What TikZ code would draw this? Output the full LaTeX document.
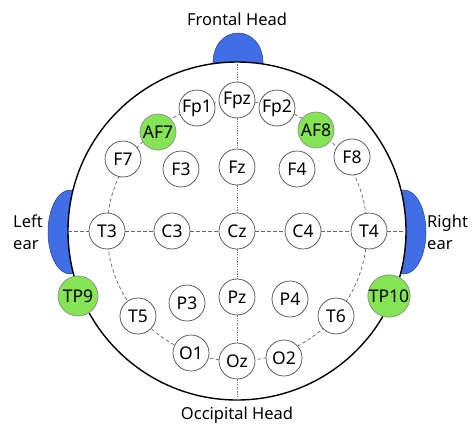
\documentclass[tikz,border=0pt]{standalone}
\usepackage{fontspec}
\setmainfont{Noto Sans}
\begin{document}
\begin{tikzpicture}[x=1pt,y=-1pt,
  elec/.style={circle,draw=black!70,line width=0.7pt,fill=white,minimum size=36pt,inner sep=0pt,font=\fontsize{17.5}{19}\selectfont},
  gel/.style={elec,fill=elecgreen,draw=black!45},
  bigel/.style={gel,minimum size=40pt},
  lab/.style={font=\fontsize{16.5}{22}\selectfont,inner sep=0pt},
  dotline/.style={draw=black!55,line width=0.6pt,dash pattern=on 1.2pt off 1.2pt},
  dashline/.style={draw=black!60,line width=0.7pt,dash pattern=on 3.5pt off 2.5pt},
  organ/.style={fill=organblue,draw=organblue!60!black,line width=0.5pt}]
\definecolor{elecgreen}{RGB}{132,228,84}
\definecolor{organblue}{RGB}{64,110,230}
\useasboundingbox (0,0) rectangle (474,439);
% nose and ears
\path[organ] (213,66) .. controls (211,22) and (265,22) .. (263,66) -- cycle;
\path[organ] (70,232) ellipse [x radius=22, y radius=42];
\path[organ] (404,232) ellipse [x radius=22, y radius=42];
% head
\draw[fill=white,line width=1.4pt] (237,231) circle (169);
\coordinate (top) at (237,62);
\coordinate (bot) at (237,400);
\coordinate (lft) at (68,231);
\coordinate (rgt) at (406,231);
\coordinate (ctr) at (237,231);
% ring
\draw[dashline] (ctr) circle (130);
% electrodes
\node[elec] (Fpz) at (237,100) {Fpz};
\node[elec] (Fp1) at (197,108) {Fp1};
\node[elec] (Fp2) at (277,108) {Fp2};
\node[gel] (AF7) at (158,132) {AF7};
\node[gel] (AF8) at (316,130) {AF8};
\node[elec] (F7) at (123,159) {F7};
\node[elec] (F8) at (352,157) {F8};
\node[elec] (F3) at (181,169) {F3};
\node[elec] (Fz) at (237,167) {Fz};
\node[elec] (F4) at (297,169) {F4};
\node[elec] (T3) at (107,231) {T3};
\node[elec] (C3) at (172,231) {C3};
\node[elec] (Cz) at (237,231) {Cz};
\node[elec] (C4) at (303,231) {C4};
\node[elec] (T4) at (369,231) {T4};
\node[bigel] (TP9) at (78,296) {TP9};
\node[bigel] (TP10) at (389,296) {TP10};
\node[elec] (T5) at (138,316) {T5};
\node[elec] (P3) at (187,303) {P3};
\node[elec] (Pz) at (237,297) {Pz};
\node[elec] (P4) at (290,299) {P4};
\node[elec] (T6) at (336,316) {T6};
\node[elec] (O1) at (191,353) {O1};
\node[elec] (Oz) at (237,361) {Oz};
\node[elec] (O2) at (284,358) {O2};
% midlines
\draw[dotline] (top) -- (Fpz);
\draw[dotline] (Fpz) -- (Fz);
\draw[dotline] (Fz) -- (Cz);
\draw[dotline] (Cz) -- (Pz);
\draw[dotline] (Pz) -- (Oz);
\draw[dotline] (Oz) -- (bot);
\draw[dashline] (lft) -- (T3);
\draw[dashline] (T3) -- (C3);
\draw[dashline] (C3) -- (Cz);
\draw[dashline] (Cz) -- (C4);
\draw[dashline] (C4) -- (T4);
\draw[dashline] (T4) -- (rgt);
% labels
\node[lab] (front) at (237,19) {Frontal Head};
\node[lab] (occ) at (237,415) {Occipital Head};
\node[lab,align=left,anchor=west] (lear) at (13,232) {Left\\ear};
\node[lab,align=left,anchor=west] (rear) at (427,232) {Right\\ear};
\end{tikzpicture}
\end{document}
